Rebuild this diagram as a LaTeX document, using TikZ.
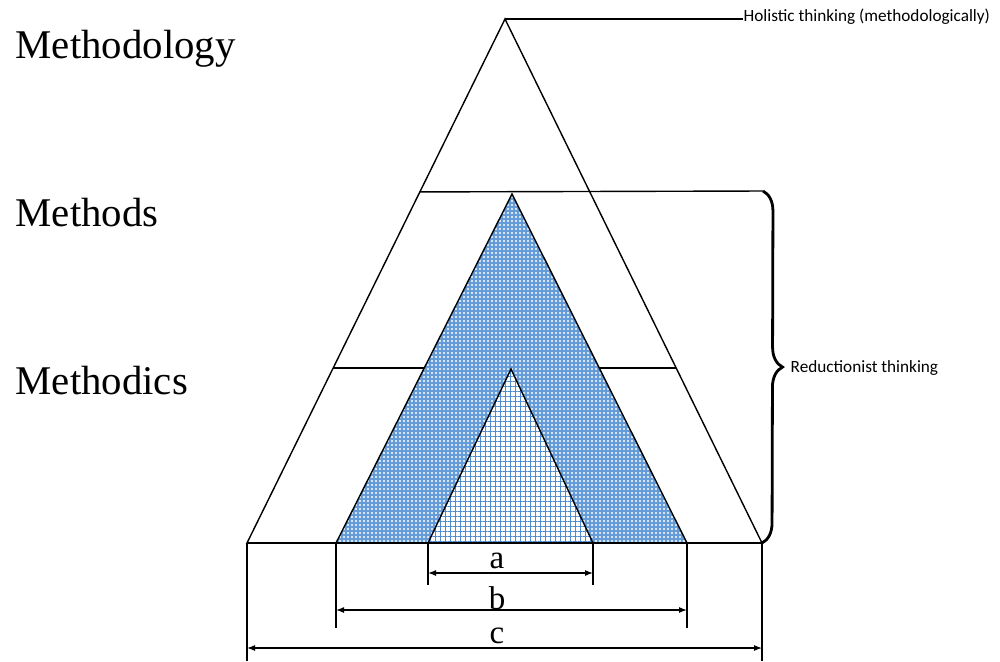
\documentclass[tikz,border=0pt]{standalone}
\usepackage{fontspec}
\setmainfont{Liberation Serif}
\newfontfamily\notefont{Carlito}
\usetikzlibrary{calc,patterns.meta,decorations.pathreplacing,arrows.meta}
\definecolor{dotblue}{RGB}{100,155,215}
\definecolor{gridblue}{RGB}{80,140,205}

\begin{document}
\begin{tikzpicture}[x=0.5pt,y=-0.5pt,line width=0.7pt,
  level/.style={anchor=base west,inner sep=0pt,font=\fontsize{20.4}{24}\selectfont},
  note/.style={anchor=west,inner sep=0pt,font=\notefont\fontsize{8.6}{10}\selectfont},
  dim/.style={line width=0.6pt,{Latex[length=4pt,width=3pt]}-{Latex[length=4pt,width=3pt]}},
  dimlabel/.style={inner sep=0pt,font=\fontsize{16.5}{18}\selectfont}]
\useasboundingbox (0,0) rectangle (1000,661);
\coordinate (top) at (505,19);
\coordinate (bl) at (247,543);
\coordinate (br) at (762,543);
\coordinate (mtop) at (512,194);
\coordinate (ml) at (336,543);
\coordinate (mr) at (687,543);
\coordinate (itop) at (511,369);
\coordinate (il) at (428,543);
\coordinate (ir) at (593,543);
\coordinate (bracetop) at (763,191);
\coordinate (bracebot) at (762,543);
\node[level] (methodology) at (15,58) {Methodology};
\node[level] (methods) at (15,226) {Methods};
\node[level] (methodics) at (15,394) {Methodics};
\node[note] (holistic) at (743,17) {Holistic thinking (methodologically)};
\node[note] (reductionist) at (790,368) {Reductionist thinking};
\draw (top) -- (bl) -- (br) -- cycle;
\draw (top) -- (holistic.west |- top);
\draw ($(top)!0.330!(bl)$) -- (bracetop);
\draw ($(top)!0.666!(bl)$) -- ($(top)!0.666!(br)$);
\draw[preaction={fill=dotblue},pattern={Dots[distance=2pt,radius=0.55pt]},pattern color=white] (mtop) -- (ml) -- (mr) -- cycle;
\draw[preaction={fill=white},pattern={Hatch[angle=0,distance=2.5pt,line width=0.35pt]},pattern color=gridblue] (itop) -- (il) -- (ir) -- cycle;
\draw (bl) -- (br);
\draw[decorate,decoration={brace,amplitude=10pt},line width=1.4pt] (bracetop) -- (bracebot);
\foreach \l/\r/\d/\e/\n in {428/593/573/585/a, 336/687/610/628/b, 247/762/648/661/c} {
  \draw (\l,543) -- (\l,\e) (\r,543) -- (\r,\e);
  \draw[dim] (\l,\d) -- (\r,\d);
  \node[dimlabel] (label-\n) at (497,\d-12) {\n};
}
\end{tikzpicture}
\end{document}
